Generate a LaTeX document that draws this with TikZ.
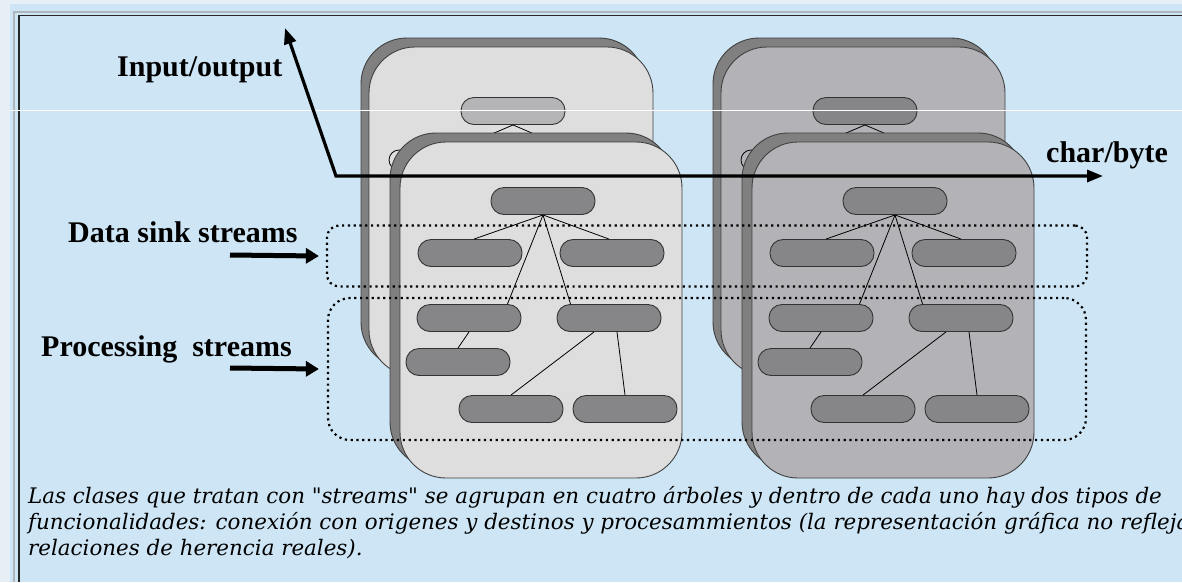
\documentclass[tikz,border=0pt]{standalone}
\usepackage{fontspec}
\setmainfont{Liberation Serif}
\newfontfamily\capfont{DejaVu Serif}
\usetikzlibrary{arrows.meta}
\definecolor{paneblue}{HTML}{CDE5F4}
\definecolor{paneedge}{HTML}{E6EFF6}
\definecolor{frameline}{HTML}{AEB6BE}
\definecolor{cardlight}{HTML}{DEDEDE}
\definecolor{carddark}{HTML}{B3B2B6}
\definecolor{cardband}{HTML}{808080}
\definecolor{boxgray}{HTML}{868688}
\definecolor{boxlight}{HTML}{B5B5B8}
\tikzset{
	card/.style={draw=black!75, line width=0.9pt, rounded corners=46pt},
	leaf/.style={draw=black!80, line width=0.9pt, fill=boxgray, rounded corners=13pt, minimum width=104pt, minimum height=27pt, inner sep=0pt},
	link/.style={line width=0.8pt},
	group/.style={draw, line width=2.2pt, dash pattern=on 2.2pt off 3.6pt},
	headline/.style={font=\bfseries\fontsize{30}{32}\selectfont, inner sep=0pt, anchor=base west},
	caption/.style={font=\capfont\itshape\fontsize{21.4}{24}\selectfont, inner sep=0pt, anchor=base west},
	pointer/.style={line width=5pt, -{Triangle[length=13pt,width=15pt]}},
	axis/.style={line width=3.2pt, line join=miter, {Triangle[length=16pt,width=12pt]}-{Triangle[length=16pt,width=12pt]}},
}

\begin{document}
\begin{tikzpicture}[x=1pt, y=-1pt]
			%%%%% START %%%%%
			\useasboundingbox (0,0) rectangle (1182,582);
			\fill[paneedge] (0,0) rectangle (1182,582);
			\fill[paneblue] (10,4) rectangle (1182,582);
			\draw[frameline, line width=2pt] (14,582) -- (14,12) -- (1182,12);
			\draw[black!85, line width=1.5pt] (19,582) -- (19,15.5) -- (1182,15.5);
			
			% two stacks of cards: bytes (light) and chars (dark)
			\foreach \col/\dx/\tone/\toptone in {l/0/cardlight/boxlight, r/352/carddark/boxgray} {
				\begin{scope}[xshift=\dx]
					\draw[card, fill=cardband] (361,38) rectangle (645,368);
					\draw[card, fill=\tone] (369,47) rectangle (653,376);
					\node[leaf, fill=\toptone] (\col T) at (513,111) {};
					\draw[link] (\col T.south) -- +(-21,9);
					\draw[link] (\col T.south) -- +(21,9);
					\draw[link, fill=\tone] (399,160) circle (10pt);
					\draw[link, fill=\tone] (398,229) circle (7pt);
					
					\draw[card, fill=cardband] (390,133) rectangle (672,468);
					\draw[card, fill=\tone] (400,142) rectangle (682,478);
					
					\node[leaf] (\col A) at (543,201) {};
					\node[leaf] (\col B) at (470,253) {};
					\node[leaf] (\col C) at (612,253) {};
					\node[leaf] (\col D) at (469,318) {};
					\node[leaf] (\col E) at (609,318) {};
					\node[leaf] (\col F) at (458,362) {};
					\node[leaf] (\col G) at (511,409) {};
					\node[leaf] (\col H) at (625,409) {};
					
					\draw[link] (\col A.south) -- ([xshift=4pt]\col B.north);
					\draw[link] (\col A.south) -- ([xshift=-3pt]\col C.north);
					\draw[link] (\col A.south) -- ([xshift=-14pt]\col D.north east);
					\draw[link] (\col A.south) -- ([xshift=14pt]\col E.north west);
					\draw[link] (\col D.south) -- (\col F.north);
					\draw[link] ([xshift=-15pt]\col E.south) -- (\col G.north);
					\draw[link] ([xshift=8pt]\col E.south) -- (\col H.north);
				\end{scope}
			}
			
			\draw[white, line width=0.8pt] (10,110) -- (1182,110);
			
			% dotted groups
			\node[group, rounded corners=12pt, minimum width=760pt, minimum height=61pt] (sink) at (707,256) {};
			\node[group, rounded corners=22pt, minimum width=758pt, minimum height=142pt] (proc) at (707,369) {};
			
			% axes
			\coordinate (corner) at (336,176);
			\coordinate (ioend) at (285,28);
			\coordinate (cbend) at (1103,176);
			\draw[axis] (ioend) -- (corner) -- (cbend);
			
			\node[headline] (io) at (117,76) {Input/output};
			\node[headline] (cb) at (1046,162) {char/byte};
			\node[headline] (sinktext) at (68,242) {Data sink streams};
			\node[headline] (proctext) at (41,356) {Processing\ \ streams};
			
			\coordinate (sinkfrom) at (230,255);
			\coordinate (procfrom) at (230,368);
			\draw[pointer] (sinkfrom) -- ([xshift=-7pt]sink.west);
			\draw[pointer] (procfrom) -- ([xshift=-8pt]proc.west);
			
			% caption
			\node[caption] (cap1) at (28,503) {Las clases que tratan con "streams" se agrupan en cuatro árboles y dentro de cada uno hay dos tipos de};
			\node[caption] (cap2) at (28,529) {funcionalidades: conexión con origenes y destinos y procesammientos (la representación gráfica no refleja};
			\node[caption] (cap3) at (28,555) {relaciones de herencia reales).};
			%%%%% END %%%%%
\end{tikzpicture}
\end{document}
